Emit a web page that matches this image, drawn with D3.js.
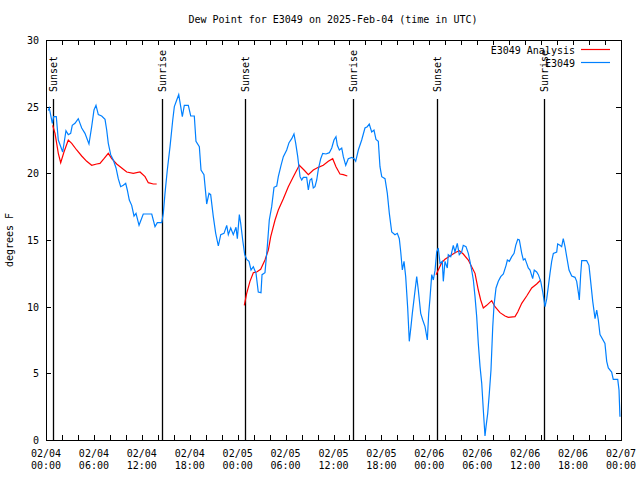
<!DOCTYPE html>
<html><head><meta charset="utf-8">
<script src="https://cdn.jsdelivr.net/npm/d3@7"></script>
<style>body{margin:0;background:#fff}svg{display:block}text{font-family:"DejaVu Sans Mono",monospace;font-size:10px;fill:#000}</style>
</head><body><svg id="c" width="640" height="480"></svg>
<script>
const title = "Dew Point for E3049 on 2025-Feb-04 (time in UTC)";
const yLabel = "degrees F";
const startUTC = Date.UTC(2025, 1, 4);
const endUTC = Date.UTC(2025, 1, 7);
const yTicks = [0, 5, 10, 15, 20, 25, 30];
// hours since 2025-02-04 00:00 UTC
const obsHours = [0.29,0.41,0.79,0.96,1.29,1.54,2.09,2.50,2.79,3.09,3.29,3.63,4.04,4.47,4.88,5.38,5.72,6.01,6.26,6.55,6.97,7.39,7.60,7.80,8.10,8.43,8.77,9.05,9.35,9.68,9.98,10.18,10.43,10.73,11.02,11.27,11.65,12.18,13.24,13.65,13.94,14.49,14.69,14.90,15.19,15.53,15.87,16.07,16.37,16.62,16.87,17.07,17.32,17.82,18.12,18.57,18.78,19.20,19.41,19.78,20.04,20.12,20.41,20.62,20.95,21.25,21.58,21.88,22.29,22.63,22.83,23.13,23.45,23.79,23.96,24.21,24.38,24.63,24.88,25.13,25.42,25.67,25.96,26.30,26.58,26.92,27.05,27.42,27.71,27.96,28.26,28.55,28.89,29.09,29.43,29.72,30.14,30.43,30.77,31.05,31.27,31.52,31.81,32.02,32.22,32.64,32.85,33.06,33.27,33.47,33.68,33.90,34.10,34.40,34.65,35.06,35.48,35.78,36.06,36.31,36.48,36.73,37.03,37.23,37.53,37.85,38.28,38.57,38.78,39.11,39.53,39.94,40.23,40.48,40.78,41.07,41.32,41.61,41.82,42.04,42.45,42.74,42.99,43.29,43.70,43.99,44.24,44.42,44.62,44.83,45.04,45.29,45.49,45.70,45.87,46.12,46.42,46.62,46.92,47.17,47.46,47.75,47.92,48.08,48.30,48.50,48.71,48.92,49.12,49.34,49.62,49.75,49.96,50.25,50.37,50.68,51.00,51.21,51.50,51.75,52.05,52.25,52.59,52.88,53.09,53.30,53.51,53.72,53.93,54.13,54.35,54.56,54.76,54.97,55.10,55.31,55.51,55.72,55.94,56.10,56.35,56.64,56.94,57.27,57.61,57.77,58.02,58.32,58.61,58.82,59.07,59.27,59.57,59.77,59.98,60.19,60.39,60.61,60.94,61.14,61.44,61.65,61.95,62.20,62.49,62.70,62.90,63.11,63.32,63.53,63.95,64.07,64.36,64.57,64.77,64.99,65.20,65.49,65.83,66.24,66.45,66.70,66.78,66.95,67.08,67.70,67.99,68.20,68.46,68.75,68.96,69.16,69.37,69.99,70.21,70.41,70.83,71.03,71.59,71.75,71.87];
const obsValues = [24.7,24.9,23.75,24.25,24.25,22.5,21.6,23.2,22.9,23.0,23.6,23.75,24.1,23.4,23.0,22.2,23.5,24.75,25.1,24.4,24.3,24.05,23.25,22.25,21.4,21.0,20.4,19.6,19.0,19.1,19.25,18.75,18.0,17.6,16.8,17.0,16.1,16.95,16.95,16.0,16.3,16.3,17.0,18.5,20.25,22.0,24.0,25.0,25.5,25.9,25.0,24.25,25.1,25.1,24.3,24.3,22.4,22.0,20.25,19.9,18.25,17.7,18.5,18.4,16.75,15.5,14.55,15.4,15.5,16.1,15.4,15.9,15.4,15.95,15.1,16.9,16.25,15.0,13.9,13.55,13.4,12.75,13.0,12.5,11.1,11.05,12.4,12.55,14.5,16.5,17.5,18.95,19.05,19.75,20.6,21.25,21.75,22.3,22.6,22.95,22.25,21.25,19.75,19.5,19.7,19.7,18.75,19.5,19.6,18.9,19.0,19.5,20.3,21.1,21.5,21.45,21.55,21.9,22.5,22.75,22.1,21.75,21.9,21.25,20.6,21.1,21.2,21.1,20.9,21.75,22.5,23.4,23.5,23.7,23.1,23.25,22.55,22.4,20.5,19.75,19.6,18.5,17.0,15.6,15.4,15.5,15.1,14.1,12.75,13.4,12.25,9.9,7.4,8.5,9.5,10.75,12.25,11.25,9.5,9.0,8.5,7.5,9.5,10.6,12.4,12.0,12.7,14.1,14.4,13.25,13.4,11.9,13.4,12.9,13.9,13.75,14.6,14.1,14.75,13.9,14.1,14.6,14.5,14.0,13.4,12.75,12.0,10.75,9.25,7.25,5.5,4.25,2.25,0.3,1.0,2.0,3.5,5.25,8.5,10.1,11.4,11.9,12.25,12.45,13.1,13.5,13.4,13.75,14.0,14.6,15.05,15.0,14.0,13.5,13.6,13.25,12.9,12.75,12.1,12.75,12.6,12.4,11.9,11.1,10.0,10.6,11.5,12.5,13.4,14.0,14.1,14.7,14.6,14.5,15.1,14.5,13.75,12.75,12.3,12.2,11.9,10.9,10.5,12.4,13.45,13.45,13.1,11.9,10.4,9.1,9.75,9.0,7.9,7.25,5.9,5.4,5.1,4.55,4.55,3.75,1.75];
// analysis (null = gap)
const anaHours = [0.84,1.13,1.54,1.84,2.25,2.79,3.22,3.84,4.47,5.10,5.72,6.35,6.76,7.26,7.80,8.23,8.85,9.48,10.11,10.93,11.77,12.40,12.81,13.44,13.86,19.0,24.83,25.13,25.54,25.96,26.38,26.88,27.42,27.84,28.14,28.68,29.09,29.72,30.34,30.97,31.72,32.31,32.85,33.47,34.10,34.72,35.35,35.90,36.31,36.81,37.23,37.73,43.0,48.84,49.12,49.55,49.96,50.59,51.21,51.75,52.25,52.88,53.30,53.72,54.13,54.43,54.76,55.18,55.81,56.22,56.85,57.48,57.89,58.73,59.07,59.57,60.19,60.82,61.44,61.95];
const anaValues = [23.6,23.0,21.5,20.8,21.6,22.5,22.25,21.75,21.3,20.9,20.6,20.7,20.75,21.1,21.5,21.1,20.7,20.4,20.1,20.0,20.1,19.75,19.3,19.2,19.2,null,10.1,11.0,11.9,12.55,12.6,12.8,13.5,14.25,15.25,16.5,17.25,18.1,19.0,19.75,20.6,20.25,19.9,20.25,20.45,20.6,20.9,21.1,20.5,19.95,19.9,19.8,null,12.4,12.75,13.3,13.55,13.8,14.05,14.2,13.95,13.5,13.0,12.5,11.25,10.5,9.9,10.1,10.45,10.0,9.55,9.3,9.2,9.25,9.6,10.25,10.8,11.4,11.7,12.0];
const sunHours = [0.91, 14.49, 24.88, 38.4, 48.9, 62.4];
const sunLabels = ["Sunset", "Sunrise", "Sunset", "Sunrise", "Sunset", "Sunrise"];
const seriesNames = ["E3049 Analysis", "E3049"];
const seriesColors = ["#ff0000", "#0080ff"];

const H = 3600 * 1000;
const svg = d3.select("#c");
const L = 46, R = 621, T = 40, B = 440;
const x = d3.scaleUtc().domain([new Date(startUTC), new Date(endUTC)]).range([L, R]);
const y = d3.scaleLinear().domain([0, 30]).range([B, T]);
const t = h => new Date(startUTC + h * H);

svg.append("text").attr("x", 333).attr("y", 23).attr("text-anchor", "middle").text(title);
svg.append("text").attr("transform", "translate(13,240) rotate(-90)").attr("text-anchor", "middle").text(yLabel);

const g = svg.append("g");
// x ticks every 2 h, top and bottom
const xt = d3.range(0, 73, 2).map(t);
g.selectAll(".xb").data(xt).enter().append("line")
  .attr("x1", d => Math.round(x(d)) + 0.5).attr("x2", d => Math.round(x(d)) + 0.5)
  .attr("y1", B).attr("y2", B - 5).attr("stroke", "#000");
g.selectAll(".xtp").data(xt).enter().append("line")
  .attr("x1", d => Math.round(x(d)) + 0.5).attr("x2", d => Math.round(x(d)) + 0.5)
  .attr("y1", T).attr("y2", T + 5).attr("stroke", "#000");
const xl = d3.range(0, 73, 6).map(t);
const fd = d3.utcFormat("%m/%d"), fh = d3.utcFormat("%H:%M");
xl.forEach(d => {
  svg.append("text").attr("x", x(d)).attr("y", 457).attr("text-anchor", "middle").text(fd(d));
  svg.append("text").attr("x", x(d)).attr("y", 469).attr("text-anchor", "middle").text(fh(d));
});
yTicks.forEach(v => {
  const yy = Math.round(y(v)) + 0.5;
  g.append("line").attr("x1", L).attr("x2", L + 5).attr("y1", yy).attr("y2", yy).attr("stroke", "#000");
  g.append("line").attr("x1", R - 5).attr("x2", R).attr("y1", yy).attr("y2", yy).attr("stroke", "#000");
  svg.append("text").attr("x", 39).attr("y", y(v) + 4).attr("text-anchor", "end").text(v);
});

// sunrise/sunset lines
sunHours.forEach((h, i) => {
  const xx = Math.round(x(t(h))) + 0.5;
  svg.append("line").attr("x1", xx).attr("x2", xx).attr("y1", 99).attr("y2", B).attr("stroke", "#000").attr("stroke-width", 1.3);
  svg.append("text").attr("transform", `translate(${xx},92) rotate(-90)`).attr("dy", "0.35em").text(sunLabels[i]);
});

const line = d3.line().defined(d => d[1] != null).x(d => x(t(d[0]))).y(d => y(d[1]));
svg.append("path").datum(anaHours.map((h, i) => [h, anaValues[i]]))
  .attr("d", line).attr("fill", "none").attr("stroke", seriesColors[0]).attr("stroke-width", 1.2);
svg.append("path").datum(obsHours.map((h, i) => [h, obsValues[i]]))
  .attr("d", line).attr("fill", "none").attr("stroke", seriesColors[1]).attr("stroke-width", 1.2);

// frame
svg.append("rect").attr("x", L + 0.5).attr("y", T + 0.5).attr("width", R - L).attr("height", B - T)
  .attr("fill", "none").attr("stroke", "#000").attr("shape-rendering", "crispEdges");

// legend
seriesNames.forEach((n, i) => {
  const yy = 50 + i * 13;
  svg.append("text").attr("x", 575).attr("y", yy + 3.5).attr("text-anchor", "end").text(n);
  svg.append("line").attr("x1", 581).attr("x2", 610).attr("y1", yy - 0.5).attr("y2", yy - 0.5)
    .attr("stroke", seriesColors[i]).attr("stroke-width", 1.2);
});
</script></body></html>
